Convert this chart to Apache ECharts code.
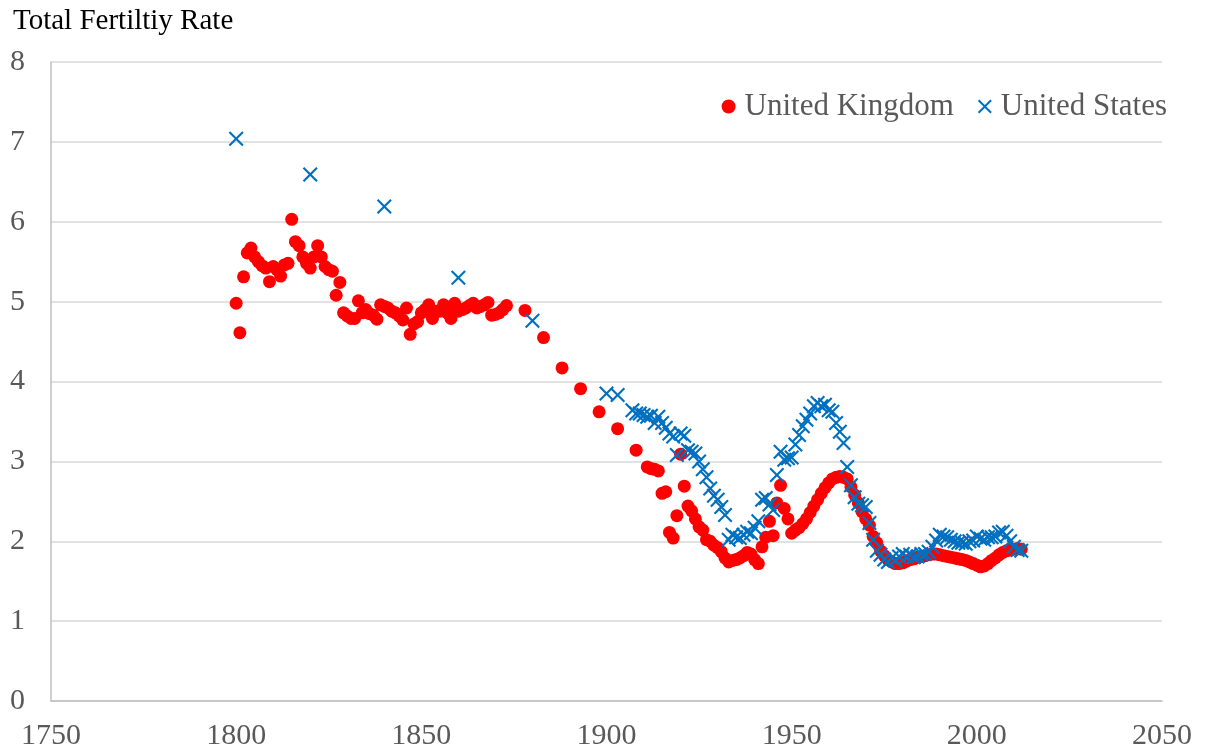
<!DOCTYPE html>
<html>
<head>
<meta charset="utf-8">
<script src="https://cdn.jsdelivr.net/npm/echarts@6/dist/echarts.min.js"></script>
<style>html,body{margin:0;padding:0;background:#fff}#c{width:1206px;height:754px}</style>
</head>
<body>
<div id="c"></div>
<script>
// ---- Data ----
const xTicks = [1750, 1800, 1850, 1900, 1950, 2000, 2050];
const yTicks = [0, 1, 2, 3, 4, 5, 6, 7, 8];

// United Kingdom: annual 1800-1873
const ukEarlyStart = 1800;
const ukEarly = [
  4.98, 4.61, 5.31, 5.61, 5.67, 5.56, 5.50, 5.45, 5.42, 5.25,
  5.44, 5.40, 5.32, 5.46, 5.48, 6.03, 5.75, 5.70, 5.56, 5.48,
  5.42, 5.56, 5.70, 5.56, 5.44, 5.40, 5.38, 5.08, 5.24, 4.86,
  4.82, 4.79, 4.79, 5.01, 4.86, 4.90, 4.85, 4.83, 4.78, 4.96,
  4.94, 4.92, 4.88, 4.86, 4.82, 4.77, 4.92, 4.59, 4.72, 4.75,
  4.86, 4.90, 4.96, 4.79, 4.88, 4.88, 4.96, 4.86, 4.79, 4.98,
  4.88, 4.90, 4.92, 4.95, 4.98, 4.92, 4.94, 4.96, 4.99, 4.83,
  4.84, 4.86, 4.90, 4.95
];
// United Kingdom: five-yearly 1878-1908
const ukMidYears = [1878, 1883, 1888, 1893, 1898, 1903, 1908];
const ukMid = [4.89, 4.55, 4.17, 3.91, 3.62, 3.41, 3.14];
// United Kingdom: annual 1911-2012
const ukModernStart = 1911;
const ukModern = [
  2.93, 2.91, 2.90, 2.88, 2.60, 2.62, 2.11, 2.04, 2.32, 3.09,
  2.69, 2.44, 2.38, 2.28, 2.18, 2.14, 2.02, 2.00, 1.95, 1.92,
  1.87, 1.79, 1.74, 1.76, 1.77, 1.79, 1.82, 1.86, 1.84, 1.77,
  1.72, 1.93, 2.05, 2.25, 2.07, 2.48, 2.70, 2.41, 2.28, 2.10,
  2.14, 2.17, 2.22, 2.28, 2.36, 2.44, 2.52, 2.60, 2.67, 2.73,
  2.78, 2.80, 2.81, 2.80, 2.78, 2.68, 2.58, 2.48, 2.37, 2.28,
  2.20, 2.06, 1.98, 1.88, 1.82, 1.77, 1.74, 1.72, 1.72, 1.73,
  1.75, 1.77, 1.78, 1.80, 1.81, 1.82, 1.83, 1.84, 1.84, 1.83,
  1.82, 1.81, 1.80, 1.79, 1.78, 1.77, 1.76, 1.74, 1.72, 1.70,
  1.68, 1.69, 1.72, 1.76, 1.79, 1.83, 1.86, 1.88, 1.89, 1.90,
  1.91, 1.90
];

// United States: sparse early years
const usEarlyYears = [1800, 1820, 1840, 1860, 1880, 1900, 1903];
const usEarly = [7.04, 6.59, 6.19, 5.30, 4.76, 3.85, 3.83];
// United States: annual 1907-2012
const usModernStart = 1907;
const usModern = [
  3.64, 3.60, 3.60, 3.58, 3.56, 3.57, 3.48, 3.56, 3.48, 3.42,
  3.35, 3.31, 3.08, 3.35, 3.32, 3.14, 3.12, 3.10, 3.00, 2.90,
  2.80, 2.66, 2.57, 2.52, 2.43, 2.33, 2.02, 2.08, 2.05, 2.04,
  2.08, 2.12, 2.10, 2.17, 2.25, 2.52, 2.54, 2.46, 2.39, 2.83,
  3.12, 3.02, 3.04, 3.05, 3.21, 3.33, 3.44, 3.52, 3.60, 3.69,
  3.73, 3.69, 3.71, 3.64, 3.62, 3.48, 3.37, 3.23, 2.93, 2.70,
  2.55, 2.47, 2.45, 2.43, 2.23, 2.02, 1.88, 1.83, 1.77, 1.74,
  1.79, 1.76, 1.81, 1.84, 1.81, 1.83, 1.80, 1.81, 1.84, 1.84,
  1.87, 1.93, 2.01, 2.08, 2.06, 2.05, 2.02, 2.00, 1.98, 1.98,
  1.97, 2.00, 2.01, 2.06, 2.03, 2.02, 2.05, 2.05, 2.06, 2.11,
  2.12, 2.07, 2.00, 1.93, 1.89, 1.88
];

// ---- Build point lists ----
function annual(start, vals) { return vals.map((v, i) => [start + i, v]); }
function paired(years, vals) { return vals.map((v, i) => [years[i], v]); }
const ukData = [].concat(annual(ukEarlyStart, ukEarly), paired(ukMidYears, ukMid), annual(ukModernStart, ukModern));
const usData = [].concat(paired(usEarlyYears, usEarly), annual(usModernStart, usModern));

const FONT = '"Liberation Serif", "Times New Roman", serif';
const crossPath = 'path://M0,1 L1,0 L5,4 L9,0 L10,1 L6,5 L10,9 L9,10 L5,6 L1,10 L0,9 L4,5 Z';

const chart = echarts.init(document.getElementById('c'), null, {renderer: 'canvas'});
chart.setOption({
  animation: false,
  backgroundColor: '#ffffff',
  title: {
    text: 'Total Fertiltiy Rate',
    left: 8, top: 2,
    textStyle: {fontFamily: FONT, fontSize: 29, fontWeight: 'normal', color: '#000000'}
  },
  legend: {
    right: 34, top: 86,
    itemWidth: 14, itemHeight: 14, itemGap: 24,
    textStyle: {fontFamily: FONT, fontSize: 31, color: '#595959', padding: [0, 0, 0, 4]},
    data: [
      {name: 'United Kingdom', icon: 'circle'},
      {name: 'United States', icon: crossPath}
    ]
  },
  grid: {left: 51, right: 44, top: 62, bottom: 53, containLabel: false},
  xAxis: {
    type: 'value', min: xTicks[0], max: xTicks[xTicks.length - 1], interval: 50,
    axisLine: {show: true, lineStyle: {color: '#bfbfbf', width: 1.5}},
    axisTick: {show: false},
    splitLine: {show: false},
    axisLabel: {fontFamily: FONT, fontSize: 30, color: '#595959', margin: 20, formatter: v => String(v)}
  },
  yAxis: {
    type: 'value', min: yTicks[0], max: yTicks[yTicks.length - 1], interval: 1,
    axisLine: {show: true, lineStyle: {color: '#bfbfbf', width: 1.5}},
    axisTick: {show: false},
    splitLine: {show: true, lineStyle: {color: '#d9d9d9', width: 1.5}},
    axisLabel: {fontFamily: FONT, fontSize: 30, color: '#595959', margin: 26}
  },
  series: [
    {
      name: 'United Kingdom', type: 'scatter', data: ukData,
      symbol: 'circle', symbolSize: 13,
      itemStyle: {color: '#ff0000', opacity: 1}, z: 2
    },
    {
      name: 'United States', type: 'scatter', data: usData,
      symbol: crossPath, symbolSize: 15,
      itemStyle: {color: '#0070c0', opacity: 1}, z: 3
    }
  ]
});
</script>
</body>
</html>
